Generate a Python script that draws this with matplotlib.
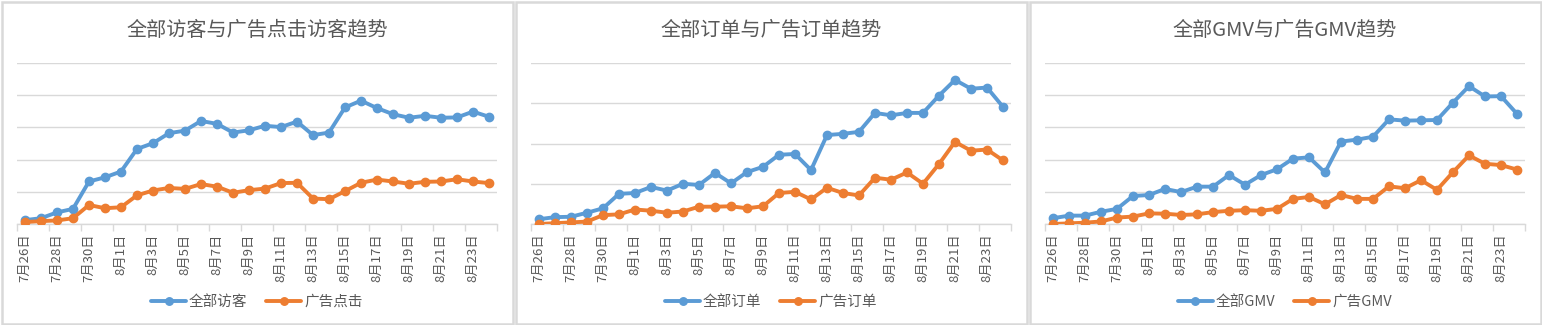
import matplotlib
matplotlib.use("Agg")
import matplotlib.pyplot as plt
from matplotlib.patches import Rectangle

plt.rcParams['font.family'] = ['Noto Sans CJK SC', 'DejaVu Sans']

# dates 7/26 .. 8/24
dates = ["7月%d日" % d for d in range(26, 32)] + ["8月%d日" % d for d in range(1, 25)]

visitors_all = [12, 18, 36, 47, 132, 145, 163, 233, 251, 282, 290, 320, 311, 284, 291,
                305, 301, 318, 276, 284, 362, 383, 360, 341, 330, 336, 330, 331, 349, 333]
visitors_ad = [6, 9, 11, 18, 59, 49, 52, 89, 104, 112, 109, 124, 116, 97, 105,
               110, 127, 128, 79, 77, 102, 128, 138, 132, 125, 131, 132, 139, 132, 127]

orders_all = [12, 17, 18, 28, 39, 75, 77, 92, 83, 100, 97, 127, 101, 129, 142,
              172, 174, 134, 221, 224, 229, 276, 270, 276, 276, 319, 358, 336, 339, 291]
orders_ad = [0, 2, 4, 6, 22, 24, 36, 33, 28, 31, 43, 43, 44, 39, 44,
             77, 80, 61, 90, 77, 71, 115, 110, 128, 100, 149, 204, 182, 185, 158]

gmv_all = [18, 26, 26, 38, 47, 87, 90, 109, 99, 116, 116, 152, 122, 152, 170,
           203, 207, 160, 256, 262, 271, 325, 321, 322, 323, 377, 428, 396, 397, 342]
gmv_ad = [0, 2, 4, 8, 20, 23, 33, 32, 28, 30, 37, 41, 43, 41, 47,
          78, 84, 61, 90, 78, 78, 117, 111, 136, 106, 161, 213, 187, 183, 169]

panels = [
    ("全部访客与广告点击访客趋势", "全部访客", "广告点击", visitors_all, visitors_ad, 500),
    ("全部订单与广告订单趋势", "全部订单", "广告订单", orders_all, orders_ad, 400),
    ("全部GMV与广告GMV趋势", "全部GMV", "广告GMV", gmv_all, gmv_ad, 500),
]

W, H = 1542, 325
BLUE = "#5B9BD5"
ORANGE = "#ED7D31"
GRID = "#D9D9D9"
TEXT = "#595959"

fig = plt.figure(figsize=(W / 100, H / 100), dpi=100)
fig.patch.set_facecolor("white")

x = list(range(len(dates)))
for i, (title, name1, name2, s1, s2, top) in enumerate(panels):
    x0 = i * 514
    # panel border
    fig.add_artist(Rectangle(((x0 + 1.5) / W, 1.5 / H), 511 / W, 322 / H,
                             transform=fig.transFigure, fill=False,
                             edgecolor=GRID, linewidth=1.8))

    ax = fig.add_axes([(x0 + 17) / W, (H - 224) / H, 480 / W, 161 / H])
    ax.plot(x, s1, color=BLUE, lw=2.8, marker="o", ms=6, label=name1,
            solid_capstyle="round", zorder=3)
    ax.plot(x, s2, color=ORANGE, lw=2.8, marker="o", ms=6, label=name2,
            solid_capstyle="round", zorder=3)

    ax.set_xlim(-0.5, len(x) - 0.5)
    ax.set_ylim(0, top)
    ax.set_yticks(range(0, top + 1, 100))
    ax.yaxis.grid(True, color=GRID, lw=1)
    ax.set_axisbelow(True)
    ax.tick_params(axis="y", length=0, labelleft=False)
    for side in ["left", "right", "top"]:
        ax.spines[side].set_visible(False)
    ax.spines["bottom"].set_color(GRID)
    ax.spines["bottom"].set_linewidth(1)

    ax.set_xticks(x[::2])
    ax.set_xticklabels(dates[::2], rotation=90, fontsize=9.5, color=TEXT)
    ax.set_xticks([v - 0.5 for v in range(0, len(x) + 1, 2)], minor=True)
    ax.tick_params(axis="x", which="major", length=0, pad=7)
    ax.tick_params(axis="x", which="minor", length=5, color=GRID, width=1)

    fig.text((x0 + 257) / W, (H - 30) / H, title, ha="center", va="center",
             fontsize=14.5, color=TEXT)

    ax.legend(loc="center", bbox_to_anchor=((x0 + 257) / W, (H - 302) / H),
              bbox_transform=fig.transFigure, ncol=2, frameon=False,
              fontsize=10.5, labelcolor=TEXT, handlelength=2.4,
              handletextpad=0.2, columnspacing=1.3, markerscale=0.9)

fig.savefig("out.png", dpi=100, facecolor="white")
